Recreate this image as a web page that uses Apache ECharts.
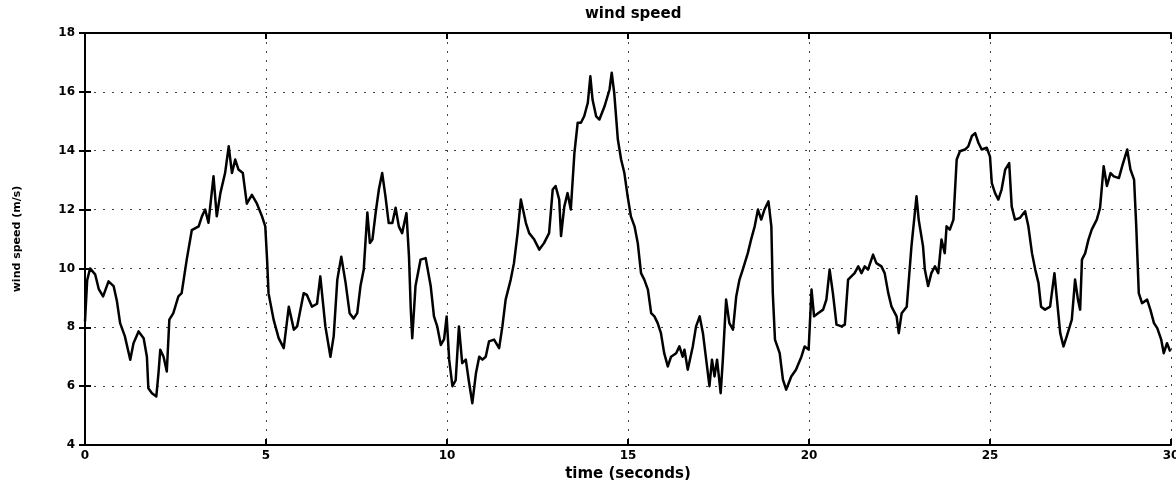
<!DOCTYPE html>
<html>
<head>
<meta charset="utf-8">
<script src="https://cdn.jsdelivr.net/npm/echarts@6/dist/echarts.min.js"></script>
<style>
html,body{margin:0;padding:0;background:#fff;}
#chart{width:1176px;height:480px;}
</style>
</head>
<body>
<div id="chart"></div>
<script>
const titleText = 'wind speed';
const xName = 'time (seconds)';
const yName = 'wind speed (m/s)';
const xTicks = [0, 5, 10, 15, 20, 25, 30];
const yTicks = [4, 6, 8, 10, 12, 14, 16, 18];

const timeSec = [
0.00,0.06,0.14,0.28,0.38,0.50,0.65,0.79,0.88,0.97,1.10,1.25,1.34,1.48,1.62,1.71,1.75,1.85,1.97,2.03,
2.08,2.17,2.26,2.33,2.44,2.58,2.67,2.81,2.95,3.14,3.23,3.32,3.41,3.55,3.64,3.74,3.87,3.97,4.06,4.15,
4.24,4.36,4.47,4.61,4.75,4.89,4.98,5.03,5.07,5.21,5.35,5.49,5.63,5.77,5.86,6.04,6.13,6.27,6.41,6.50,
6.64,6.78,6.87,6.97,7.08,7.20,7.31,7.42,7.52,7.61,7.70,7.80,7.87,7.94,8.03,8.12,8.21,8.30,8.39,8.49,
8.58,8.67,8.76,8.88,8.95,9.00,9.04,9.13,9.27,9.41,9.55,9.64,9.73,9.83,9.92,9.99,10.06,10.15,10.24,10.33,
10.42,10.52,10.60,10.70,10.80,10.89,10.98,11.07,11.16,11.30,11.44,11.53,11.62,11.76,11.85,11.95,12.04,12.18,12.27,12.41,
12.55,12.68,12.82,12.92,13.00,13.10,13.15,13.24,13.33,13.42,13.52,13.61,13.70,13.79,13.89,13.96,14.02,14.12,14.21,14.35,
14.49,14.55,14.62,14.72,14.81,14.90,14.99,15.08,15.18,15.27,15.36,15.45,15.55,15.64,15.73,15.82,15.91,16.00,16.10,16.19,
16.33,16.42,16.51,16.56,16.65,16.79,16.88,16.98,17.07,17.16,17.25,17.32,17.39,17.46,17.56,17.62,17.71,17.80,17.90,17.99,
18.08,18.17,18.31,18.40,18.50,18.59,18.68,18.77,18.88,18.96,19.00,19.06,19.19,19.28,19.37,19.51,19.64,19.79,19.88,19.99,
20.07,20.14,20.25,20.39,20.48,20.57,20.66,20.76,20.90,20.99,21.08,21.17,21.26,21.36,21.45,21.54,21.63,21.77,21.86,22.00,
22.09,22.19,22.28,22.42,22.48,22.56,22.70,22.83,22.97,23.03,23.15,23.20,23.29,23.38,23.48,23.57,23.66,23.75,23.80,23.89,
23.99,24.08,24.17,24.31,24.40,24.50,24.59,24.68,24.77,24.91,25.00,25.05,25.14,25.23,25.32,25.42,25.53,25.60,25.69,25.83,
25.97,26.06,26.16,26.25,26.34,26.41,26.52,26.66,26.78,26.85,26.94,27.03,27.12,27.26,27.35,27.43,27.49,27.54,27.63,27.72,
27.81,27.95,28.04,28.14,28.23,28.33,28.42,28.56,28.65,28.79,28.88,28.98,29.04,29.11,29.20,29.34,29.43,29.53,29.62,29.73,
29.80,29.89,29.98
];

const windSpeed = [
8.2,9.6,10.0,9.8,9.3,9.05,9.56,9.4,8.9,8.14,7.7,6.9,7.46,7.86,7.63,7.0,5.93,5.76,5.65,6.44,
7.24,7.0,6.5,8.26,8.48,9.05,9.16,10.3,11.3,11.43,11.77,12.0,11.55,13.13,11.77,12.56,13.24,14.15,13.24,13.7,
13.36,13.24,12.2,12.5,12.2,11.77,11.43,10.3,9.16,8.26,7.63,7.29,8.7,7.92,8.03,9.16,9.1,8.7,8.8,9.73,
8.03,7.0,7.7,9.62,10.4,9.5,8.48,8.3,8.48,9.4,9.96,11.9,10.86,10.98,11.9,12.7,13.24,12.45,11.54,11.54,
12.06,11.43,11.2,11.88,10.4,8.6,7.63,9.4,10.3,10.35,9.4,8.37,8.03,7.4,7.6,8.37,6.9,6.0,6.2,8.03,
6.78,6.9,6.2,5.42,6.44,7.0,6.9,7.0,7.52,7.58,7.29,8.03,8.94,9.62,10.18,11.2,12.34,11.54,11.2,10.98,
10.64,10.86,11.2,12.68,12.8,12.34,11.1,12.1,12.56,12.0,13.93,14.95,14.95,15.17,15.63,16.53,15.74,15.17,15.06,15.5,
16.08,16.65,15.96,14.38,13.7,13.24,12.45,11.77,11.43,10.86,9.84,9.62,9.28,8.48,8.37,8.14,7.8,7.12,6.67,7.0,
7.12,7.35,7.0,7.24,6.56,7.35,8.03,8.37,7.8,6.9,6.0,6.9,6.33,6.9,5.76,6.9,8.94,8.14,7.92,9.05,
9.62,9.96,10.52,10.98,11.43,12.0,11.66,12.0,12.28,11.43,9.16,7.58,7.12,6.22,5.88,6.33,6.56,7.0,7.35,7.24,
9.28,8.37,8.48,8.6,8.94,9.96,9.16,8.09,8.03,8.09,9.62,9.73,9.84,10.07,9.84,10.07,9.96,10.47,10.18,10.07,
9.84,9.16,8.7,8.37,7.8,8.48,8.7,10.75,12.45,11.66,10.75,9.96,9.4,9.84,10.07,9.84,10.98,10.52,11.43,11.32,
11.66,13.7,13.98,14.04,14.15,14.5,14.6,14.27,14.04,14.1,13.8,12.9,12.56,12.34,12.68,13.36,13.58,12.1,11.66,11.72,
11.94,11.43,10.52,9.96,9.5,8.7,8.6,8.7,9.84,8.94,7.8,7.35,7.69,8.26,9.62,8.94,8.6,10.3,10.52,10.98,
11.32,11.66,12.06,13.47,12.8,13.24,13.13,13.07,13.47,14.04,13.36,13.02,11.43,9.16,8.82,8.94,8.6,8.14,7.97,7.58,
7.12,7.46,7.18
];

const seriesData = timeSec.map((t, i) => [t, windSpeed[i]]);

const FONT = 'DejaVu Sans';
const axisLineStyle = { show: true, lineStyle: { color: '#000', width: 2 } };
const tickStyle = { show: true, inside: true, length: 6, lineStyle: { color: '#000', width: 2 } };
const gridLine = { show: true, lineStyle: { color: '#444', width: 1, type: [2, 7] } };
const labelStyle = { color: '#000', fontFamily: FONT, fontWeight: 'bold', fontSize: 12 };

const chart = echarts.init(document.getElementById('chart'), null, { renderer: 'canvas' });
chart.setOption({
  animation: false,
  backgroundColor: '#fff',
  title: {
    text: titleText,
    left: 580,
    top: 2,
    textStyle: { color: '#000', fontFamily: FONT, fontWeight: 'bold', fontSize: 15 }
  },
  grid: { left: 85, right: 5, top: 33, bottom: 35, containLabel: false, outerBoundsMode: 'none' },
  xAxis: [
    {
      type: 'value', position: 'bottom',
      min: xTicks[0], max: xTicks[xTicks.length - 1], interval: 5,
      axisLine: axisLineStyle, axisTick: tickStyle, splitLine: gridLine,
      axisLabel: Object.assign({ margin: 5 }, labelStyle),
      name: xName, nameLocation: 'middle', nameGap: 20,
      nameTextStyle: { color: '#000', fontFamily: FONT, fontWeight: 'bold', fontSize: 15 }
    },
    {
      type: 'value', position: 'top',
      min: xTicks[0], max: xTicks[xTicks.length - 1], interval: 5,
      axisLine: axisLineStyle, axisTick: tickStyle, splitLine: { show: false },
      axisLabel: { show: false }
    }
  ],
  yAxis: [
    {
      type: 'value', position: 'left',
      min: yTicks[0], max: yTicks[yTicks.length - 1], interval: 2,
      axisLine: axisLineStyle, axisTick: tickStyle, splitLine: gridLine,
      axisLabel: Object.assign({ margin: 10 }, labelStyle),
      name: yName, nameLocation: 'middle', nameGap: 62, nameRotate: 90,
      nameTextStyle: { color: '#000', fontFamily: FONT, fontWeight: 'bold', fontSize: 11 }
    },
    {
      type: 'value', position: 'right',
      min: yTicks[0], max: yTicks[yTicks.length - 1], interval: 2,
      axisLine: axisLineStyle, axisTick: tickStyle, splitLine: { show: false },
      axisLabel: { show: false }
    }
  ],
  series: [{
    type: 'line',
    xAxisIndex: 0, yAxisIndex: 0,
    data: seriesData,
    showSymbol: false,
    symbol: 'none',
    lineStyle: { color: '#000', width: 2.5, join: 'round' },
    silent: true
  }]
});
</script>
</body>
</html>
